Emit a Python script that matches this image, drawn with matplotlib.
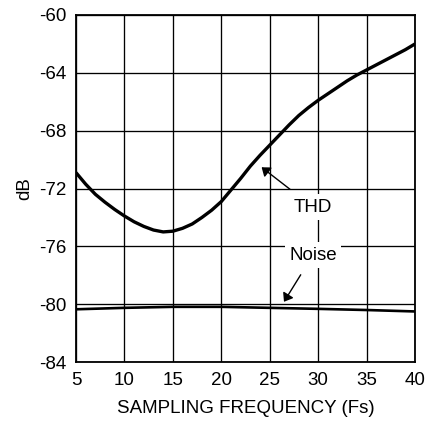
import numpy as np
from matplotlib import pyplot as plt

plt.rcParams['font.family'] = ['Liberation Sans', 'DejaVu Sans']
plt.rcParams['axes.unicode_minus'] = False

# THD curve
fs_thd = [5, 6, 7, 8, 9, 10, 11, 12, 13, 14, 15, 16, 17, 18, 19, 20,
          21, 22, 23, 24, 25, 26, 27, 28, 29, 30, 31, 32, 33, 34, 35,
          36, 37, 38, 39, 40]
thd = [-70.9, -71.7, -72.4, -72.95, -73.45, -73.9, -74.3, -74.62, -74.87,
       -75.0, -74.95, -74.75, -74.45, -74.0, -73.5, -72.9, -72.1, -71.3,
       -70.45, -69.7, -69.0, -68.3, -67.6, -66.95, -66.4, -65.9, -65.45,
       -65.0, -64.55, -64.15, -63.8, -63.45, -63.1, -62.75, -62.4, -62.0]

# noise curve
fs_noise = [5, 10, 15, 20, 25, 30, 35, 40]
noise = [-80.35, -80.25, -80.18, -80.18, -80.25, -80.32, -80.4, -80.5]

xticks = [5, 10, 15, 20, 25, 30, 35, 40]
yticks = [-84, -80, -76, -72, -68, -64, -60]

fig = plt.figure(figsize=(4.27, 4.22), dpi=100)
ax = fig.add_axes([0.178, 0.142, 0.794, 0.8225])

ax.plot(fs_thd, thd, color='black', lw=2.4, solid_capstyle='butt',
        solid_joinstyle='round', zorder=3)
ax.plot(fs_noise, noise, color='black', lw=1.9, solid_capstyle='butt', zorder=3)

ax.set_xlim(5, 40)
ax.set_ylim(-84, -60)
ax.set_xticks(xticks)
ax.set_yticks(yticks)
ax.tick_params(length=0, labelsize=13.5, pad=7)
ax.grid(True, color='black', lw=0.95)
for s in ax.spines.values():
    s.set_linewidth(1.3)

ax.set_xlabel('SAMPLING FREQUENCY (Fs)', fontsize=13.5, labelpad=8)
ax.set_ylabel('dB', fontsize=13.5, labelpad=4)

#labels with arrows
box = dict(facecolor='white', edgecolor='none', pad=3)
ax.annotate('THD', xy=(24.16, -70.53), xytext=(29.46, -73.28),
            ha='center', va='center', fontsize=13.5, bbox=box, zorder=4,
            arrowprops=dict(arrowstyle='-|>,head_width=0.3', color='black',
                            lw=1.0, mutation_scale=12, shrinkA=6, shrinkB=0))
ax.annotate('Noise', xy=(26.47, -79.83), xytext=(29.46, -76.6),
            ha='center', va='center', fontsize=13.5, bbox=box, zorder=4,
            arrowprops=dict(arrowstyle='-|>,head_width=0.3', color='black',
                            lw=1.0, mutation_scale=12, shrinkA=6, shrinkB=0))

fig.savefig('out.png', dpi=100)
